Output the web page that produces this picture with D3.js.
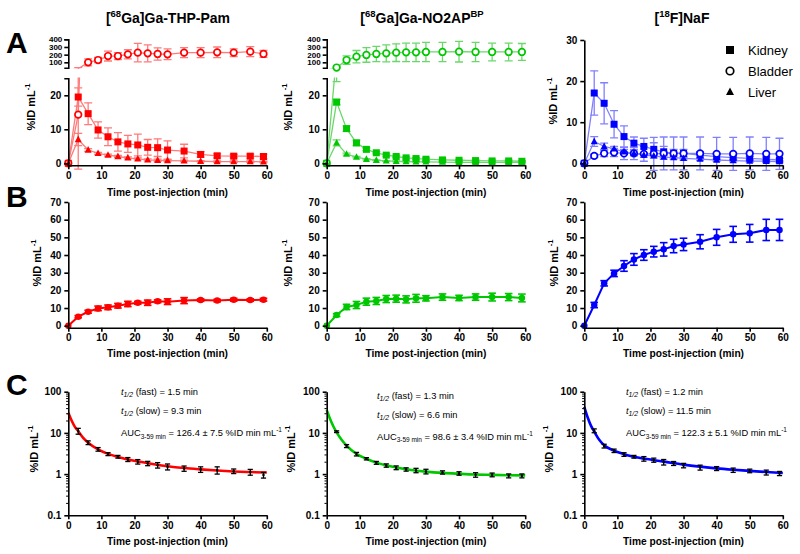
<!DOCTYPE html>
<html><head><meta charset="utf-8">
<script src="https://cdn.jsdelivr.net/npm/d3@7"></script>
<style>body{margin:0;background:#fff}svg{font-family:Arial,"Liberation Sans",sans-serif}</style>
</head><body><svg id="c" width="800" height="554"></svg>
<script>
// ---------------- DATA ----------------
const times = [0,3,6,9,12,15,18,21,24,27,30,35,40,45,50,55,59];
const xTicks = [0,10,20,30,40,50,60];
const organs = ["Kidney","Bladder","Liver"];

// Row A: organ time-activity (%ID/mL)
const thpKidney    = [0,19.5,14.6,9.8,7.8,6.3,5.7,5.4,4.7,4.6,3.9,3.6,2.6,2.2,2.1,2.1,2.0];
const thpKidneyErr = [0,2.7,3.2,2.4,2.6,2.7,2.5,3.2,2.3,2.6,2.7,2.0,0.8,0.6,0.5,0.6,0.7];
const thpBladder    = [0,14.3,100,130,182,182,204,226,217,209,204,226,226,230,226,239,209];
const thpBladderErr = [0,16,45,35,65,45,60,120,110,80,70,65,65,70,50,65,45];
const thpLiver    = [0,7.0,3.9,2.9,2.4,2.0,1.6,1.3,1.0,0.9,0.8,0.7,0.6,0.5,0.5,0.5,0.4];
const thpLiverErr = [0,1.8,0.4,0.3,0.3,0.3,0.3,0.3,0.3,0.3,0.3,0.2,0.2,0.2,0.2,0.2,0.2];

const no2Kidney    = [0,18.0,10.2,6.0,4.1,3.1,2.4,2.0,1.6,1.4,1.2,1.0,0.9,0.8,0.7,0.7,0.6];
const no2KidneyErr = [0,0.8,0.8,0.8,0.4,0.3,0.3,0.3,0.3,0.3,0.3,0.2,0.2,0.2,0.2,0.2,0.2];
const no2Bladder    = [0,32,130,174,196,209,217,226,230,230,235,235,239,235,235,235,235];
const no2BladderErr = [0,8,55,80,95,100,110,115,120,120,125,125,135,125,115,115,110];
const no2Liver    = [0,6.0,2.7,1.8,1.2,0.9,0.7,0.6,0.5,0.45,0.4,0.35,0.3,0.3,0.3,0.3,0.3];
const no2LiverErr = [0,0.9,0.3,0.2,0.2,0.1,0.1,0.1,0.1,0.1,0.1,0.1,0.1,0.1,0.1,0.1,0.1];

const nafKidney    = [0,17.1,14.6,9.5,6.5,4.9,4.1,3.4,2.8,2.4,2.4,2.0,1.6,1.4,1.2,1.0,0.8];
const nafKidneyErr = [0,5.4,5.0,3.3,2.6,1.5,2.0,1.6,1.3,1.0,1.0,0.8,0.7,0.6,0.5,0.5,0.4];
const nafBladder    = [0,1.8,2.4,2.6,2.4,2.4,2.3,2.3,2.4,2.4,2.4,2.4,2.3,2.3,2.4,2.3,2.3];
const nafBladderErr = [0,0.4,0.8,1.0,1.5,1.5,1.8,4.0,4.0,4.0,4.0,4.0,4.0,4.0,4.0,4.0,3.8];
const nafLiver    = [0,5.3,4.1,3.5,2.8,2.4,2.0,1.8,1.5,1.4,1.2,1.0,0.8,0.65,0.55,0.5,0.4];
const nafLiverErr = [0,1.2,0.8,0.6,0.6,0.6,0.5,0.5,0.5,0.4,0.4,0.3,0.3,0.3,0.3,0.3,0.3];

// Row B: bone uptake
const thpBone    = [0,5.1,7.9,9.8,10.4,11.3,12.3,13.0,13.0,13.8,13.6,14.2,14.5,14.2,14.7,14.5,14.7];
const thpBoneErr = [0,0.6,0.8,1.3,1.3,1.3,1.5,0.8,1.5,0.8,1.6,1.7,0.7,0.7,0.8,0.7,0.8];
const no2Bone    = [0,6.0,10.6,11.7,13.6,14.0,15.1,15.3,14.9,15.5,15.5,16.2,15.7,16.2,16.2,16.2,15.7];
const no2BoneErr = [0,0.8,1.5,2.0,2.0,2.0,2.0,2.0,2.0,2.2,1.5,1.8,1.5,1.8,2.2,2.0,2.2];
const nafBone    = [0,11.7,24.0,29.6,33.8,37.5,40.0,41.9,43.2,45.1,46.0,47.5,50.0,51.7,52.3,54.2,54.2];
const nafBoneErr = [0,1.5,1.5,1.8,3.0,3.3,3.0,3.0,3.8,3.8,3.5,4.0,4.5,4.5,5.0,6.0,6.0];

// Row C: blood (log scale) and fitted curve
const bloodTimes = [3,6,9,12,15,18,21,24,27,30,35,40,45,50,55,59];
const thpBlood    = [11.1,5.8,4.0,3.06,2.64,2.27,2.0,1.82,1.65,1.51,1.37,1.30,1.25,1.18,1.12,0.95];
const thpBloodErr = [1.8,0.6,0.4,0.25,0.2,0.25,0.25,0.22,0.25,0.25,0.2,0.2,0.25,0.15,0.18,0.15];
const no2Blood    = [10.7,4.8,3.06,2.36,1.88,1.62,1.43,1.30,1.23,1.16,1.10,1.04,0.96,0.96,0.91,0.91];
const no2BloodErr = [0.5,0.4,0.3,0.15,0.15,0.15,0.15,0.12,0.15,0.15,0.1,0.1,0.12,0.1,0.1,0.1];
const nafBlood    = [11.3,4.8,3.69,3.0,2.64,2.36,2.19,1.96,1.82,1.62,1.45,1.37,1.25,1.2,1.1,1.04];
const nafBloodErr = [1.2,0.5,0.35,0.3,0.2,0.3,0.25,0.3,0.2,0.2,0.2,0.15,0.15,0.12,0.15,0.12];
const fitTimes = [0,1,2,3,4.5,6,9,12,15,20,25,30,35,40,45,50,55,60];
const thpFit = [31,20,14,11,7.6,5.8,4.0,3.1,2.6,2.1,1.78,1.55,1.4,1.3,1.22,1.16,1.12,1.09];
const no2Fit = [36,22,14.5,10.3,6.8,4.9,3.1,2.35,1.9,1.5,1.28,1.15,1.07,1.02,0.98,0.96,0.94,0.93];
const nafFit = [43,24,15,10.8,6.8,5.0,3.7,3.05,2.65,2.25,1.95,1.7,1.52,1.38,1.28,1.2,1.12,1.06];

const tracers = [
  {pre:"[", sup:"68", post:"Ga]Ga-THP-Pam", tail:""},
  {pre:"[", sup:"68", post:"Ga]Ga-NO2AP", tail:"BP"},
  {pre:"[", sup:"18", post:"F]NaF", tail:""}
];
const annFast = ["1.5","1.3","1.2"];
const annSlow = ["9.3","6.6","11.5"];
const annAUC  = ["126.4 ± 7.5","98.6 ± 3.4","122.3 ± 5.1"];

// ---------------- STYLE / LAYOUT ----------------
const colors = ["#ff0000","#00c800","#0000ff"];
const light  = ["#ff7a7a","#6ad86a","#8080ff"];
const colX = [68.3,326.7,584.3];
const W = 198.5;
const FONT = "Arial, 'Liberation Sans', sans-serif";

const svg = d3.select("#c");
const defs = svg.append("defs");
const xS = colX.map(x0 => d3.scaleLinear().domain([0,60]).range([x0,x0+W]));

function styleAxis(g, fs){
  g.attr("font-family",FONT).attr("font-size",fs);
  g.selectAll("path.domain").attr("stroke","#000").attr("stroke-width",1.6);
  g.selectAll(".tick line").attr("stroke","#000").attr("stroke-width",1.6);
  g.selectAll(".tick text").attr("font-weight","bold").attr("fill","#000");
}
function xAxis(x, y){
  const g = svg.append("g").attr("transform",`translate(0,${y})`)
    .call(d3.axisBottom(x).tickValues(xTicks).tickSize(4).tickSizeOuter(0).tickPadding(2.5));
  styleAxis(g,10);
}
function xTitle(x, y){
  svg.append("text").attr("x",(x.range()[0]+x.range()[1])/2).attr("y",y)
    .attr("text-anchor","middle").attr("font-family",FONT).attr("font-size",10.2)
    .attr("font-weight","bold").text("Time post-injection (min)");
}
function yTitle(x, y){
  const t = svg.append("text").attr("transform",`translate(${x},${y}) rotate(-90)`)
    .attr("text-anchor","middle").attr("font-family",FONT).attr("font-size",11).attr("font-weight","bold");
  t.append("tspan").text("%ID mL");
  t.append("tspan").attr("dy",-5).attr("font-size",7.5).text("-1");
}
function marker(g, shape, cx, cy, col, big){
  const s = big || 7;
  if(shape==="square"){
    g.append("rect").attr("x",cx-s/2).attr("y",cy-s/2).attr("width",s).attr("height",s).attr("fill",col);
  } else if(shape==="circle"){
    g.append("circle").attr("cx",cx).attr("cy",cy).attr("r",s*0.47).attr("fill","#fff").attr("stroke",col).attr("stroke-width",1.7);
  } else if(shape==="triangle"){
    const h = s*0.95;
    g.append("path").attr("d",`M${cx},${cy-h*0.6}L${cx+s/2},${cy+h*0.4}L${cx-s/2},${cy+h*0.4}Z`).attr("fill",col);
  } else if(shape==="dot"){
    g.append("circle").attr("cx",cx).attr("cy",cy).attr("r",s/2).attr("fill",col);
  }
}
function errBar(g, cx, y, v, e, col, cap, sw){
  if(!e) return;
  const y1 = y(v-e), y2 = y(v+e);
  g.append("line").attr("x1",cx).attr("x2",cx).attr("y1",y1).attr("y2",y2).attr("stroke",col).attr("stroke-width",sw);
  g.append("line").attr("x1",cx-cap).attr("x2",cx+cap).attr("y1",y2).attr("y2",y2).attr("stroke",col).attr("stroke-width",sw);
  g.append("line").attr("x1",cx-cap).attr("x2",cx+cap).attr("y1",y1).attr("y2",y1).attr("stroke",col).attr("stroke-width",sw);
}
function clipRect(id, x, y, w, h){
  defs.append("clipPath").attr("id",id).append("rect").attr("x",x).attr("y",y).attr("width",w).attr("height",h);
  return `url(#${id})`;
}

// ---------------- ROW A ----------------
const rowAData = [
  [[thpKidney,thpKidneyErr],[thpBladder,thpBladderErr],[thpLiver,thpLiverErr]],
  [[no2Kidney,no2KidneyErr],[no2Bladder,no2BladderErr],[no2Liver,no2LiverErr]],
  [[nafKidney,nafKidneyErr],[nafBladder,nafBladderErr],[nafLiver,nafLiverErr]]
];
const shapes = ["square","circle","triangle"];
const yTitleA = [35,292,557];

rowAData.forEach((series, ci) => {
  const x = xS[ci];
  const broken = ci < 2;
  const yLow = broken ? d3.scaleLinear().domain([0,25]).range([163.3,78.3])
                      : d3.scaleLinear().domain([0,30]).range([163.3,40]);
  const segs = [{y:yLow, only:null, clip:clipRect("cA"+ci+"l", x(0)-8, yLow.range()[1]-0.8, W+16, yLow(0)-yLow.range()[1]+12)}];
  if(broken){
    const yUp = d3.scaleLinear().domain([30,400]).range([67.7,39.3]);
    segs.push({y:yUp, only:1, clip:clipRect("cA"+ci+"u", x(0)-8, 30, W+16, 67.7-30+0.8)});
  }
  segs.forEach(seg => {
    const y = seg.y, [lo,hi] = y.domain();
    const use = series.map((s,si)=>[s,si]).filter(([s,si]) => seg.only===null || si===seg.only);
    const gc = svg.append("g").attr("clip-path",seg.clip);
    use.forEach(([[vals]]) => {
      gc.append("path").datum(vals)
        .attr("d", d3.line().x((d,i)=>x(times[i])).y(d=>y(d)))
        .attr("fill","none").attr("stroke",light[ci]).attr("stroke-width",1.3);
    });
    use.forEach(([[vals,errs]]) => {
      vals.forEach((v,i) => errBar(gc, x(times[i]), y, v, errs[i], light[ci], 4, 1.3));
    });
    const gm = svg.append("g");
    use.forEach(([[vals], si]) => {
      vals.forEach((v,i) => { if(v>=lo && v<=hi) marker(gm, shapes[si], x(times[i]), y(v), colors[ci]); });
    });
  });
  // axes
  const ya = svg.append("g").attr("transform",`translate(${x(0)},0)`)
    .call(d3.axisLeft(yLow).tickValues(broken?[0,10,20]:[0,10,20,30]).tickSize(4).tickSizeOuter(broken?4:0).tickPadding(3));
  styleAxis(ya,10);
  svg.append("line").attr("x1",x(0)).attr("x2",x(0)).attr("y1",yLow(0)).attr("y2",yLow(0)+2.8).attr("stroke","#000").attr("stroke-width",1.6);
  if(broken){
    const yUp = segs[1].y;
    const yu = svg.append("g").attr("transform",`translate(${x(0)},0)`)
      .call(d3.axisLeft(yUp).tickValues([100,200,300,400]).tickSize(4).tickSizeOuter(4).tickPadding(2));
    styleAxis(yu,8);
  }
  xAxis(x, yLow(0)+2);
  xTitle(x, 195.5);
  yTitle(yTitleA[ci], broken ? 107 : 101);
  // title
  const tr = tracers[ci];
  const t = svg.append("text").attr("x",[168,422,682][ci]).attr("y",22.5).attr("text-anchor","middle")
    .attr("font-family",FONT).attr("font-size",14).attr("font-weight","bold");
  t.append("tspan").text(tr.pre);
  t.append("tspan").attr("dy",-5.5).attr("font-size",9.5).text(tr.sup);
  t.append("tspan").attr("dy",5.5).text(tr.post);
  if(tr.tail) t.append("tspan").attr("dy",-5.5).attr("font-size",9.5).text(tr.tail);
});

// legend
organs.forEach((name, i) => {
  const ly = [50,71,92][i];
  marker(svg, shapes[i], 730, ly, "#000", 8);
  svg.append("text").attr("x",748).attr("y",ly+4.5).attr("font-family",FONT).attr("font-size",13).text(name);
});

// ---------------- ROW B ----------------
const rowB = [[thpBone,thpBoneErr],[no2Bone,no2BoneErr],[nafBone,nafBoneErr]];
const yTitleB = [41,292,558];
rowB.forEach(([vals,errs], ci) => {
  const x = xS[ci];
  const y = d3.scaleLinear().domain([0,70]).range([325.7,202]);
  const g = svg.append("g");
  g.append("path").datum(vals).attr("d", d3.line().x((d,i)=>x(times[i])).y(d=>y(d)))
    .attr("fill","none").attr("stroke",colors[ci]).attr("stroke-width",2);
  vals.forEach((v,i) => errBar(g, x(times[i]), y, v, errs[i], colors[ci], 3.8, 1.6));
  vals.forEach((v,i) => marker(g, "dot", x(times[i]), y(v), colors[ci], 6.5));
  const ya = svg.append("g").attr("transform",`translate(${x(0)},0)`)
    .call(d3.axisLeft(y).tickValues(d3.range(0,71,10)).tickSize(4).tickSizeOuter(0).tickPadding(3));
  styleAxis(ya,10);
  svg.append("line").attr("x1",x(0)).attr("x2",x(0)).attr("y1",y(0)).attr("y2",y(0)+2.8).attr("stroke","#000").attr("stroke-width",1.6);
  xAxis(x, y(0)+2);
  xTitle(x, 357);
  yTitle(yTitleB[ci], 263);
});

// ---------------- ROW C ----------------
const rowC = [[thpBlood,thpBloodErr,thpFit],[no2Blood,no2BloodErr,no2Fit],[nafBlood,nafBloodErr,nafFit]];
const yTitleC = [38,295,553];
const annX = [121,377,626];
const annY = [395,398.5,395];
const majors = [0.1,1,10,100];
const minors = [];
[0.1,1,10].forEach(d => { for(let k=2;k<=9;k++) minors.push(d*k); });
rowC.forEach(([vals,errs,fit], ci) => {
  const x = xS[ci];
  const y = d3.scaleLog().domain([0.1,100]).range([515.3,391.7]);
  const g = svg.append("g");
  g.append("path").datum(fit).attr("d", d3.line().curve(d3.curveMonotoneX).x((d,i)=>x(fitTimes[i])).y(d=>y(d)))
    .attr("fill","none").attr("stroke",colors[ci]).attr("stroke-width",2.6);
  vals.forEach((v,i) => errBar(g, x(bloodTimes[i]), y, v, errs[i], "#000", 2.6, 1.3));
  vals.forEach((v,i) => marker(g, "dot", x(bloodTimes[i]), y(v), "#000", 2.4));
  const ya = svg.append("g").attr("transform",`translate(${x(0)},0)`)
    .call(d3.axisLeft(y).tickValues(majors.concat(minors)).tickFormat(d => majors.includes(d) ? String(d) : "")
      .tickSize(4).tickSizeOuter(0).tickPadding(3));
  styleAxis(ya,10);
  ya.selectAll(".tick").filter(d => !majors.includes(d)).select("line").attr("x2",-2.2).attr("stroke-width",1);
  xAxis(x, y.range()[0]);
  xTitle(x, 545);
  yTitle(yTitleC[ci], 449);
  // annotations
  const ax = annX[ci], ay = annY[ci];
  const mk = (yy) => svg.append("text").attr("x",ax).attr("y",yy).attr("font-family",FONT).attr("font-size",9.3);
  [["fast",annFast[ci]],["slow",annSlow[ci]]].forEach(([lab,val], k) => {
    const t = mk(ay + k*19);
    t.append("tspan").attr("font-style","italic").text("t");
    t.append("tspan").attr("font-style","italic").attr("font-size",6.8).attr("dy",2).text("1/2");
    t.append("tspan").attr("dy",-2).text(` (${lab}) = ${val} min`);
  });
  const t = mk(ay + 41);
  t.append("tspan").text("AUC");
  t.append("tspan").attr("font-size",6.5).attr("dy",2.5).text("3-59 min");
  t.append("tspan").attr("dy",-2.5).text(` = ${annAUC[ci]} %ID min mL`);
  t.append("tspan").attr("font-size",6.5).attr("dy",-4).text("-1");
});

// panel letters
[["A",53],["B",207],["C",395]].forEach(([l,y]) => {
  svg.append("text").attr("x",6).attr("y",y).attr("font-family",FONT).attr("font-size",30).attr("font-weight","bold").text(l);
});
</script></body></html>
